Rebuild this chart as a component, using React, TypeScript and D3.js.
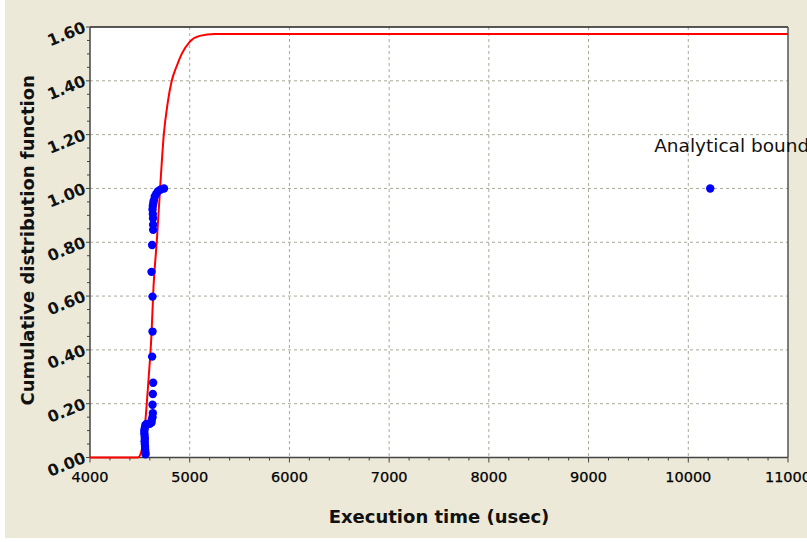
import React from "react";
import * as d3 from "d3";

// Red fitted CDF curve
const curveX = [4000, 4480, 4520, 4550, 4587, 4617, 4637, 4670, 4703, 4740, 4780, 4820, 4870, 4920, 5000, 5100, 5250, 11000];
const curveY = [0, 0, 0.03, 0.115, 0.29, 0.46, 0.635, 0.805, 1.0, 1.2, 1.32, 1.4, 1.455, 1.5, 1.545, 1.567, 1.574, 1.574];

// Measured samples (blue dots)
const sampleX = [4742, 4705, 4683, 4665, 4650, 4640, 4635, 4630, 4627, 4630, 4632, 4633, 4633, 4623, 4617, 4627, 4627, 4623, 4633, 4630, 4627, 4630, 4627, 4620, 4617, 4600,
  4565, 4555, 4550, 4545, 4545, 4548, 4550, 4548, 4550, 4552, 4553, 4555, 4557];
const sampleY = [1.0, 0.995, 0.99, 0.98, 0.97, 0.955, 0.945, 0.935, 0.922, 0.905, 0.889, 0.865, 0.846, 0.79, 0.69, 0.598, 0.468, 0.375, 0.278, 0.236, 0.196, 0.165, 0.15, 0.14, 0.13, 0.125,
  0.125, 0.12, 0.11, 0.1, 0.09, 0.08, 0.07, 0.06, 0.05, 0.04, 0.03, 0.02, 0.012];

// Analytical bound point
const boundX = [10220];
const boundY = [1.0];
const boundLabel = "Analytical bound";

const xTicks = [4000, 5000, 6000, 7000, 8000, 9000, 10000, 11000];
const yTicks = [0, 0.2, 0.4, 0.6, 0.8, 1.0, 1.2, 1.4, 1.6];

const W = 807, H = 542;
const L = 90, R = 788, T = 27, B = 457.5;

export default function App() {
  const x = d3.scaleLinear().domain([4000, 11000]).range([L, R]);
  const y = d3.scaleLinear().domain([0, 1.6]).range([B, T]);
  const line = d3.line<number>()
    .x((_, i) => x(curveX[i]))
    .y((_, i) => y(curveY[i]))
    .curve(d3.curveMonotoneX);
  const xMinor = d3.range(4000, 11000.1, 200).filter((v) => v % 1000 !== 0);
  const yMinor = d3.range(0, 1.6001, 0.05).filter((v) => Math.abs(v / 0.2 - Math.round(v / 0.2)) > 0.01);
  const grid = "#aaa898";
  const axisCol = "#444";
  return (
    <svg width={W} height={H} style={{ position: "absolute", left: 0, top: 0 }} fontFamily="'DejaVu Sans', Verdana, sans-serif">
      <rect x={0} y={0} width={W} height={H} fill="#ffffff" />
      <rect x={5} y={0} width={W - 5} height={538} fill="#ECE9D8" />
      <rect x={L} y={T} width={R - L} height={B - T} fill="#ffffff" />
      {/* grid */}
      {xTicks.slice(1, -1).map((v) => (
        <line key={"gx" + v} x1={x(v)} x2={x(v)} y1={T} y2={B} stroke={grid} strokeDasharray="3,3" />
      ))}
      {yTicks.slice(1, -1).map((v) => (
        <line key={"gy" + v} x1={L} x2={R} y1={y(v)} y2={y(v)} stroke={grid} strokeDasharray="3,3" />
      ))}
      {/* frame */}
      <line x1={L} x2={R} y1={T} y2={T} stroke="#222" strokeWidth={1.5} />
      <line x1={R} x2={R} y1={T} y2={B} stroke="#555" strokeWidth={1.5} />
      <line x1={L} x2={L} y1={T} y2={B} stroke={axisCol} strokeWidth={1.5} />
      <line x1={L} x2={R} y1={B} y2={B} stroke={axisCol} strokeWidth={1.5} />
      {/* x ticks */}
      {xTicks.map((v) => (
        <g key={"xt" + v}>
          <line x1={x(v)} x2={x(v)} y1={B} y2={B + 5} stroke={axisCol} />
          <text x={x(v)} y={482} textAnchor="middle" fontSize={14.5} fill="#000" stroke="#000" strokeWidth={0.25}>{v}</text>
        </g>
      ))}
      {xMinor.map((v) => (
        <line key={"xm" + v} x1={x(v)} x2={x(v)} y1={B} y2={B + 3} stroke={axisCol} />
      ))}
      {/* y ticks */}
      {yTicks.map((v) => (
        <g key={"yt" + v}>
          <line x1={L - 4} x2={L} y1={y(v)} y2={y(v)} stroke={axisCol} />
          <text x={85} y={y(v) + 5} textAnchor="end" fontSize={16} fontWeight="bold" fill="#111"
            transform={`rotate(-22, 85, ${y(v)})`}>{v.toFixed(2)}</text>
        </g>
      ))}
      {yMinor.map((v) => (
        <line key={"ym" + v} x1={L - 3} x2={L} y1={y(v)} y2={y(v)} stroke={axisCol} />
      ))}
      {/* curve */}
      <path d={line(curveX) || ""} fill="none" stroke="#ff0000" strokeWidth={2} />
      {/* samples */}
      {sampleX.map((v, i) => (
        <circle key={"s" + i} cx={x(v)} cy={y(sampleY[i])} r={4.2} fill="#0000ff" />
      ))}
      {boundX.map((v, i) => (
        <g key={"b" + i}>
          <circle cx={x(v)} cy={y(boundY[i])} r={4.2} fill="#0000ff" />
          <text x={x(v) - 56} y={y(boundY[i]) - 36} fontSize={18.5} fill="#111">{boundLabel}</text>
        </g>
      ))}
      {/* titles */}
      <text x={(L + R) / 2} y={523} textAnchor="middle" fontSize={18} fontWeight="bold" fill="#111">Execution time (usec)</text>
      <text transform={`translate(34, ${(T + B) / 2 - 2}) rotate(-90)`} textAnchor="middle" fontSize={18} fontWeight="bold" fill="#111">Cumulative distribution function</text>
    </svg>
  );
}
